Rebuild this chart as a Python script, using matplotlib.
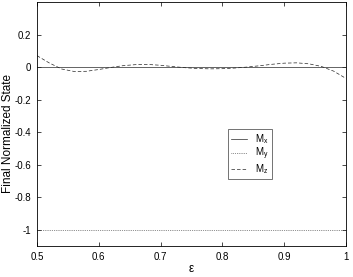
import matplotlib
matplotlib.use('Agg')
import matplotlib.pyplot as plt
import numpy as np

plt.rcParams['font.family'] = ['Liberation Sans', 'DejaVu Sans']
plt.rcParams['mathtext.fontset'] = 'custom'
plt.rcParams['mathtext.rm'] = 'Liberation Sans'
plt.rcParams['mathtext.it'] = 'Liberation Sans'

eps = [0.50, 0.52, 0.54, 0.56, 0.58, 0.60, 0.62, 0.64, 0.66, 0.68, 0.70, 0.72, 0.74,
       0.76, 0.78, 0.80, 0.82, 0.84, 0.86, 0.88, 0.90, 0.92, 0.94, 0.96, 0.98, 1.00]
mx = [0.0] * len(eps)
my = [-1.0] * len(eps)
mz = [0.07, 0.025, -0.012, -0.027, -0.026, -0.015, -0.002, 0.009, 0.015, 0.016, 0.011,
      0.003, -0.004, -0.009, -0.011, -0.010, -0.006, 0.0, 0.008, 0.017, 0.024, 0.026,
      0.020, 0.004, -0.025, -0.07]
yticks = [-1, -0.8, -0.6, -0.4, -0.2, 0, 0.2]
ytick_labels = ['-1', '-0.8', '-0.6', '-0.4', '-0.2', '0', '0.2']
xticks = [0.5, 0.6, 0.7, 0.8, 0.9, 1.0]
xtick_labels = ['0.5', '0.6', '0.7', '0.8', '0.9', '1']

fig = plt.figure(figsize=(3.53, 2.77), dpi=100)
ax = fig.add_axes([37/353, 31/277, 309/353, 244/277])

ax.plot(eps, mx, color='0.15', lw=0.5, label='M$_\\mathregular{x}$')
ax.plot(eps, my, color='0.15', lw=0.5, ls=':', label='M$_\\mathregular{y}$')
ax.plot(eps, mz, color='0.15', lw=0.5, ls='--', dashes=(5, 3), label='M$_\\mathregular{z}$')

ax.set_xlim(0.5, 1.0)
ax.set_ylim(-1.1, 0.4)
ax.set_xticks(xticks)
ax.set_xticklabels(xtick_labels)
ax.set_yticks(yticks)
ax.set_yticklabels(ytick_labels)
ax.tick_params(direction='in', top=True, right=True, labelsize=7, length=3, width=0.5,
               pad=4)
for s in ax.spines.values():
    s.set_linewidth(0.6)

ax.set_xlabel('\u03b5', fontsize=8.5)
ax.xaxis.set_label_coords(0.5, -17/244)
ax.set_ylabel('Final Normalized State', fontsize=8.5)
ax.yaxis.set_label_coords(-23/309, 0.46)

leg = ax.legend(loc='upper left', bbox_to_anchor=((228-37)/309, (246-129)/244),
                fontsize=7, frameon=True, fancybox=False, edgecolor='0.2',
                handlelength=1.7, borderpad=0.3, labelspacing=0.02, handletextpad=0.8,
                borderaxespad=0)
leg.get_frame().set_linewidth(0.6)

fig.savefig('out.png', dpi=100)
